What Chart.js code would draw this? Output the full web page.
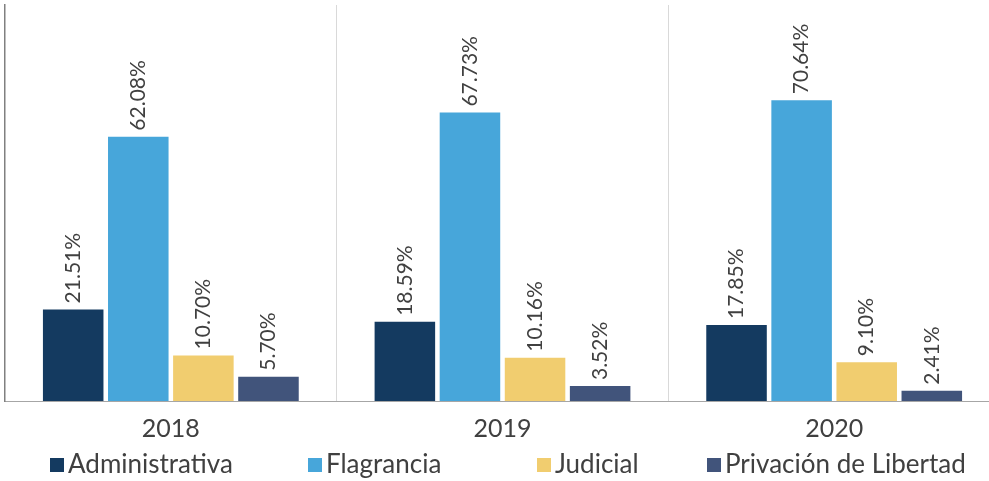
<!DOCTYPE html>
<html>
<head>
<meta charset="utf-8">
<script src="https://cdn.jsdelivr.net/npm/chart.js@4.4.1/dist/chart.umd.min.js"></script>
<style>
  html, body { margin: 0; padding: 0; background: #ffffff; overflow: hidden; }
  #wrap { position: relative; width: 1000px; height: 481px; }
</style>
</head>
<body>
<div id="wrap"><canvas id="c"></canvas></div>
<script>
const categories = ['2018', '2019', '2020'];
const seriesNames = ['Administrativa', 'Flagrancia', 'Judicial', 'Privación de Libertad'];
const administrativa = [21.51, 18.59, 17.85];
const flagrancia = [62.08, 67.73, 70.64];
const judicial = [10.70, 10.16, 9.10];
const privacion = [5.70, 3.52, 2.41];
const seriesColors = ['#143a60', '#47a6da', '#f1cd6f', '#41547b'];

const FONT = 'Lato, "Open Sans", sans-serif';
const TEXT = '#404040';

const valueLabels = {
  id: 'valueLabels',
  afterDatasetsDraw(chart) {
    const ctx = chart.ctx;
    ctx.save();
    ctx.font = '21px ' + FONT;
    ctx.fillStyle = TEXT;
    ctx.textAlign = 'left';
    ctx.textBaseline = 'middle';
    chart.data.datasets.forEach((ds, di) => {
      const meta = chart.getDatasetMeta(di);
      meta.data.forEach((bar, i) => {
        ctx.save();
        ctx.translate(bar.x, bar.y - 6);
        ctx.rotate(-Math.PI / 2);
        ctx.fillText(ds.data[i].toFixed(2) + '%', 0, 0);
        ctx.restore();
      });
    });
    ctx.restore();
  }
};

const bottomLegend = {
  id: 'bottomLegend',
  afterDraw(chart) {
    const ctx = chart.ctx;
    const starts = [50, 308, 537, 707];
    const yc = 465;
    ctx.save();
    ctx.font = '26px ' + FONT;
    ctx.textBaseline = 'middle';
    ctx.textAlign = 'left';
    chart.data.datasets.forEach((ds, i) => {
      ctx.fillStyle = ds.backgroundColor;
      ctx.fillRect(starts[i], yc - 7, 14, 14);
      ctx.fillStyle = TEXT;
      ctx.fillText(ds.label, starts[i] + 18, yc);
    });
    ctx.restore();
  }
};

const seriesData = [administrativa, flagrancia, judicial, privacion];

new Chart(document.getElementById('c'), {
  type: 'bar',
  data: {
    labels: categories,
    datasets: seriesNames.map((name, i) => ({
      label: name,
      data: seriesData[i],
      backgroundColor: seriesColors[i],
      borderWidth: 0,
      categoryPercentage: 0.785,
      barPercentage: 0.93
    }))
  },
  options: {
    responsive: true,
    maintainAspectRatio: false,
    animation: false,
    layout: { padding: { left: 5, top: 5, right: 0, bottom: 24 } },
    plugins: {
      legend: { display: false },
      tooltip: { enabled: false }
    },
    scales: {
      x: {
        grid: { offset: true, color: '#d9d9d9', lineWidth: 1, drawTicks: false },
        border: { color: '#a6a6a6', width: 1 },
        ticks: { color: TEXT, font: { family: FONT, size: 25 }, padding: 13 }
      },
      y: {
        min: 0,
        max: 93,
        grid: { display: false, drawTicks: false },
        border: { display: true, color: '#808080', width: 1.5 },
        ticks: { display: false }
      }
    }
  },
  plugins: [valueLabels, bottomLegend]
});
</script>
</body>
</html>
